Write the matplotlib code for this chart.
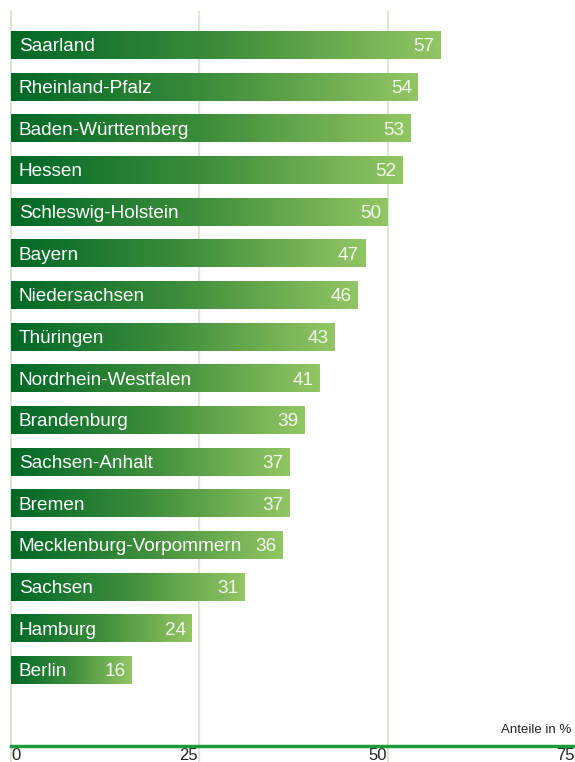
"""
Horizontal bar chart: Anteile je Bundesland (gradient bars)
"""

import numpy as np
import matplotlib.pyplot as plt
from matplotlib.colors import LinearSegmentedColormap
import matplotlib.transforms as mtransforms

states = ["Saarland", "Rheinland-Pfalz", "Baden-Württemberg", "Hessen",
          "Schleswig-Holstein", "Bayern", "Niedersachsen", "Thüringen",
          "Nordrhein-Westfalen", "Brandenburg", "Sachsen-Anhalt", "Bremen",
          "Mecklenburg-Vorpommern", "Sachsen", "Hamburg", "Berlin"]
values = [57, 54, 53, 52, 50, 47, 46, 43, 41, 39, 37, 37, 36, 31, 24, 16]
xticks = [0, 25, 50, 75]

plt.rcParams['font.family'] = ['Liberation Sans', 'DejaVu Sans']

W, H = 575, 762
fig = plt.figure(figsize=(W / 100, H / 100), dpi=100)
left, right, top, bottom = 11, 576, 12, 746
ax = fig.add_axes([left / W, (H - bottom) / H, (right - left) / W, (bottom - top) / H])

step = 41.67
first = 45
ylo, yhi = (bottom - first) / step, -(first - top) / step
ax.set_xlim(0, 75)
for s in ax.spines.values():
    s.set_visible(False)
ax.set_xticks([])
ax.set_yticks([])

cmap = LinearSegmentedColormap.from_list("g", ["#006827", "#3f8e3b", "#93c664"])
grad = np.linspace(0, 1, 256).reshape(1, -1)
h = 28 / step

# grid lines, running down past the axis line
grid_col = "#d8ead2"
for t in xticks[:-1]:
    ax.plot([t, t], [yhi, ylo + 16 / step],
            color=grid_col, lw=1.5, clip_on=False, zorder=0)

y = np.arange(len(values))
bars = ax.barh(y, values, height=h, color="none", zorder=2)
for bar, name, v, yi in zip(bars, states, values, y):
    im = ax.imshow(grad, cmap=cmap, aspect="auto", zorder=2,
                   extent=[0, v, yi + h / 2, yi - h / 2])
    im.set_clip_path(bar)
    ax.text(1.05, yi + 0.04, name, color="white", fontsize=13.7,
            va="center", ha="left", zorder=3)
    ax.text(v - 0.8, yi + 0.04, str(v), color="#f2f7ee", fontsize=13.7,
            va="center", ha="right", zorder=3)
ax.set_ylim(ylo, yhi)

# bottom axis line
ax.axhline(ylo, color="#1d9a3c", lw=2.5, clip_on=False, zorder=4)

trans = mtransforms.blended_transform_factory(ax.transData, fig.transFigure)
for t in xticks:
    ax.text(t + (0.05 if t == 0 else -0.15), (H - 755.5) / H, str(t),
            transform=trans, ha="left" if t == 0 else "right", va="center",
            fontsize=12, color="#222222")

fig.text(571 / W, (H - 730) / H, "Anteile in %", ha="right", va="center",
         fontsize=9.5, color="#222222")

fig.savefig("out.png", dpi=100)
